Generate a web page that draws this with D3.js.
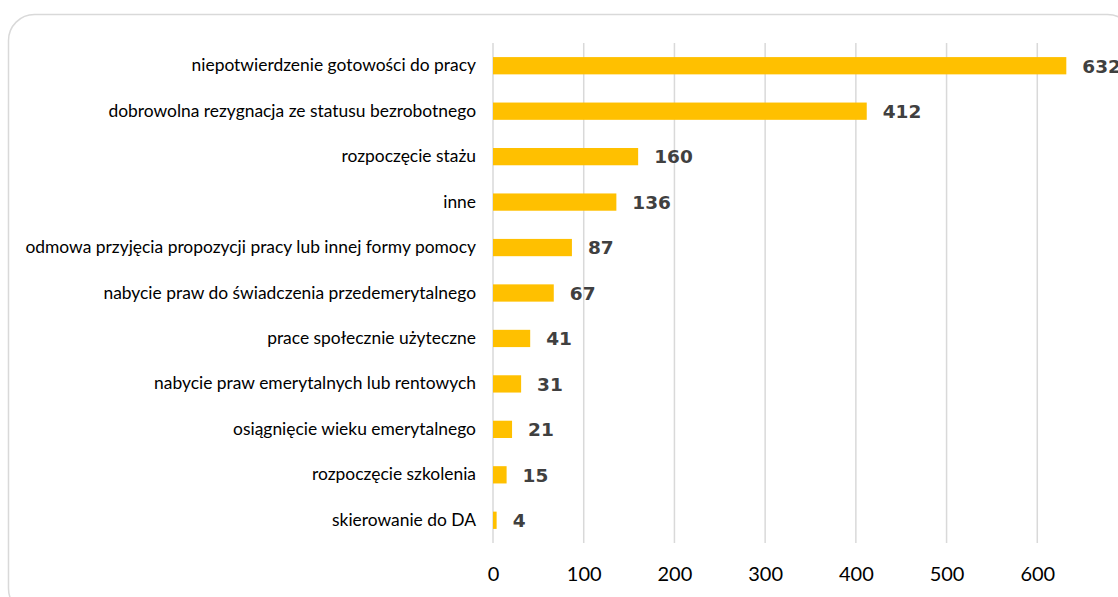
<!DOCTYPE html>
<html>
<head>
<meta charset="utf-8">
<script src="https://cdn.jsdelivr.net/npm/d3@7"></script>
<style>
  body { margin: 0; background: #fff; }
  svg { display: block; }
</style>
</head>
<body>
<svg id="chart"></svg>
<script>
// reasons for deregistration
const categories = [
  'niepotwierdzenie gotowości do pracy',
  'dobrowolna rezygnacja ze statusu bezrobotnego',
  'rozpoczęcie stażu',
  'inne',
  'odmowa przyjęcia propozycji pracy lub innej formy pomocy',
  'nabycie praw do świadczenia przedemerytalnego',
  'prace społecznie użyteczne',
  'nabycie praw emerytalnych lub rentowych',
  'osiągnięcie wieku emerytalnego',
  'rozpoczęcie szkolenia ',
  'skierowanie do DA'
];
const values = [632, 412, 160, 136, 87, 67, 41, 31, 21, 15, 4];
const tickValues = [0, 100, 200, 300, 400, 500, 600];

let W = 1118, H = 597;

let svg = d3.select('#chart')
  .attr('width', W)
  .attr('height', H);

// rounded frame, runs off the right/bottom edge
svg.append('rect')
  .attr('x', 8.5).attr('y', 14.5)
  .attr('width', 1125).attr('height', 600)
  .attr('rx', 26).attr('ry', 26)
  .attr('fill', '#fff')
  .attr('stroke', '#d9d9d9')
  .attr('stroke-width', 1.5);

let xScale = d3.scaleLinear()
  .domain([0, 700])
  .range([493, 1128]);

let yScale = d3.scaleBand()
  .domain(categories)
  .range([43, 543])
  .paddingInner(0.62)
  .paddingOuter(0.31);

// gridlines
svg.append('g')
  .selectAll('line')
  .data(tickValues)
  .enter()
  .append('line')
  .attr('x1', d => xScale(d))
  .attr('x2', d => xScale(d))
  .attr('y1', 43)
  .attr('y2', 543)
  .attr('stroke', '#d9d9d9')
  .attr('stroke-width', 1.5);

// x axis labels
let xAxis = d3.axisBottom(xScale)
  .tickValues(tickValues)
  .tickSize(0)
  .tickPadding(24);
let xAxisGroup = svg.append('g')
  .attr('transform', 'translate(0, 543)')
  .call(xAxis);
xAxisGroup.select('.domain').remove();
xAxisGroup.selectAll('text')
  .style('font-family', 'Lato, sans-serif')
  .style('font-size', '20px')
  .attr('fill', '#000');

// category labels
let yAxis = d3.axisLeft(yScale)
  .tickSize(0)
  .tickPadding(17);
let yAxisGroup = svg.append('g')
  .attr('transform', 'translate(493, 0)')
  .call(yAxis);
yAxisGroup.select('.domain').remove();
let catText = yAxisGroup.selectAll('text')
  .style('font-family', 'Lato, sans-serif')
  .style('font-size', '16px')
  .attr('fill', '#000');

// size the labels so the longest one starts near x=25 like the original
let longest = d3.max(catText.nodes(), n => n.getComputedTextLength());
catText.style('font-size', (16 * 451 / longest).toFixed(2) + 'px');

// bars
svg.append('g')
  .selectAll('rect')
  .data(values)
  .enter()
  .append('rect')
  .attr('x', xScale(0))
  .attr('y', (d, i) => yScale(categories[i]))
  .attr('width', d => xScale(d) - xScale(0))
  .attr('height', yScale.bandwidth())
  .attr('fill', '#ffc000');

// value labels
svg.append('g')
  .selectAll('text')
  .data(values)
  .enter()
  .append('text')
  .attr('x', d => xScale(d) + 16)
  .attr('y', (d, i) => yScale(categories[i]) + yScale.bandwidth() / 2)
  .attr('dy', '0.37em')
  .style('font-family', '"DejaVu Sans", sans-serif')
  .style('font-weight', 'bold')
  .style('font-size', '18.5px')
  .attr('fill', '#404040')
  .text(d => d);
</script>
</body>
</html>
